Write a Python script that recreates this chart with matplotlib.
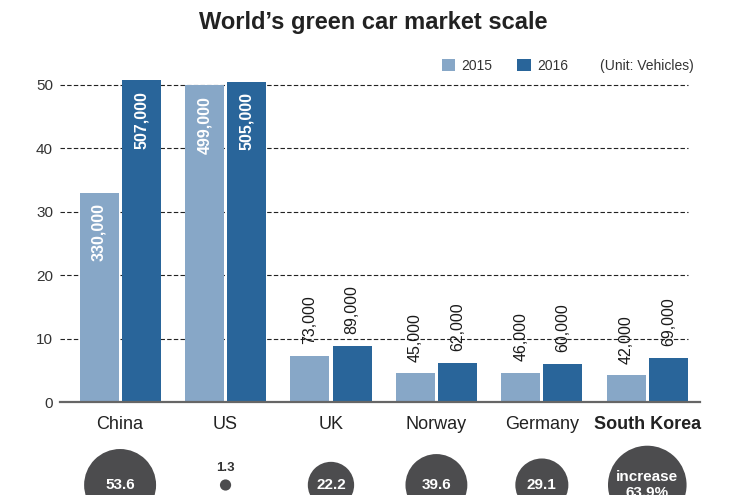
import numpy as np
import matplotlib
matplotlib.use("Agg")
import matplotlib.pyplot as plt
import matplotlib.transforms as mtransforms

plt.rcParams['font.family'] = ['Liberation Sans', 'DejaVu Sans']

# data (vehicles)
countries = ['China', 'US', 'UK', 'Norway', 'Germany', 'South Korea']
sales_2015 = [330000, 499000, 73000, 45000, 46000, 42000]
sales_2016 = [507000, 505000, 89000, 62000, 60000, 69000]
growth = [53.6, 1.3, 22.2, 39.6, 29.1, 63.9]  # % increase
growth_labels = ['53.6', '1.3', '22.2', '39.6', '29.1', 'increase\n63.9%']
yticks = [0, 10, 20, 30, 40, 50]

c2015 = '#87a7c7'
c2016 = '#29659a'
circle_color = '#4c4c4e'

W, H = 750, 495
fig = plt.figure(figsize=(W / 100, H / 100), dpi=100)
ax = fig.add_axes([60 / W, (H - 402) / H, 640 / W, 330 / H])

x = np.arange(len(countries))
v15 = np.array(sales_2015) / 10000
v16 = np.array(sales_2016) / 10000
bw = 0.37
off = 0.2

# dashed guide lines behind the bars
for t in yticks[1:]:
    ax.axhline(t, xmin=0, xmax=0.981, color='#222222', lw=0.8,
               linestyle=(0, (4, 2)), zorder=1)

b15 = ax.bar(x - off, v15, width=bw, color=c2015, zorder=2, label='2015')
b16 = ax.bar(x + off, v16, width=bw, color=c2016, zorder=2, label='2016')

# value labels
for xs, vals, raw in [(x - off, v15, sales_2015), (x + off, v16, sales_2016)]:
    for xi, v, r in zip(xs, vals, raw):
        txt = f'{r:,}'
        if v > 20:
            ax.annotate(txt, (xi, v), xytext=(0, -7.5), textcoords='offset points',
                        rotation=90, ha='center', va='top', color='white',
                        fontsize=11.5, fontweight='bold', zorder=3)
        else:
            ax.annotate(txt, (xi, v), xytext=(0, 8.5), textcoords='offset points',
                        rotation=90, ha='center', va='bottom', color='#1a1a1a',
                        fontsize=11.5, zorder=3)

ax.set_xlim(-0.57, 5.5)
ax.set_ylim(0, 52)
ax.set_yticks(yticks)
ax.tick_params(axis='y', length=0, pad=5, labelsize=11, labelcolor='#333333')
ax.set_xticks(x)
ax.set_xticklabels(countries)
ax.tick_params(axis='x', length=0, pad=10, labelsize=13, labelcolor='#222222')
ax.get_xticklabels()[-1].set_fontweight('bold')

for s in ['top', 'right', 'left']:
    ax.spines[s].set_visible(False)
ax.spines['bottom'].set_color('#666666')
ax.spines['bottom'].set_linewidth(1.6)

# growth bubbles, area proportional to growth rate
trans = mtransforms.blended_transform_factory(ax.transData, fig.transFigure)
ax.scatter(x, [10 / H] * len(x), s=np.array(growth) * 50.1, color=circle_color,
           linewidths=0, transform=trans, clip_on=False, zorder=3)
for xi, g, lab in zip(x, growth, growth_labels):
    if g < 5:
        ax.text(xi, 27 / H, lab, transform=trans, ha='center', va='center',
                fontsize=9.5, fontweight='bold', color='#333333')
    else:
        ax.text(xi, 10 / H, lab, transform=trans, ha='center', va='center',
                fontsize=11, fontweight='bold', color='white', linespacing=1.1)

# title, legend, unit
fig.text(373 / W, 1 - 22 / H, 'World\u2019s green car market scale', ha='center',
         va='center', fontsize=17, fontweight='bold', color='#222222')
fig.legend(handles=[b15, b16], loc='center left', ncol=2, frameon=False,
           bbox_to_anchor=(442 / W, 1 - 66 / H), fontsize=10, borderpad=0,
           borderaxespad=0, handlelength=0.95, handleheight=0.95,
           handletextpad=0.45, columnspacing=1.8, labelcolor='#333333')
fig.text(600 / W, 1 - 66 / H, '(Unit: Vehicles)', ha='left', va='center',
         fontsize=10, color='#333333')

fig.savefig('out.png', dpi=100)
